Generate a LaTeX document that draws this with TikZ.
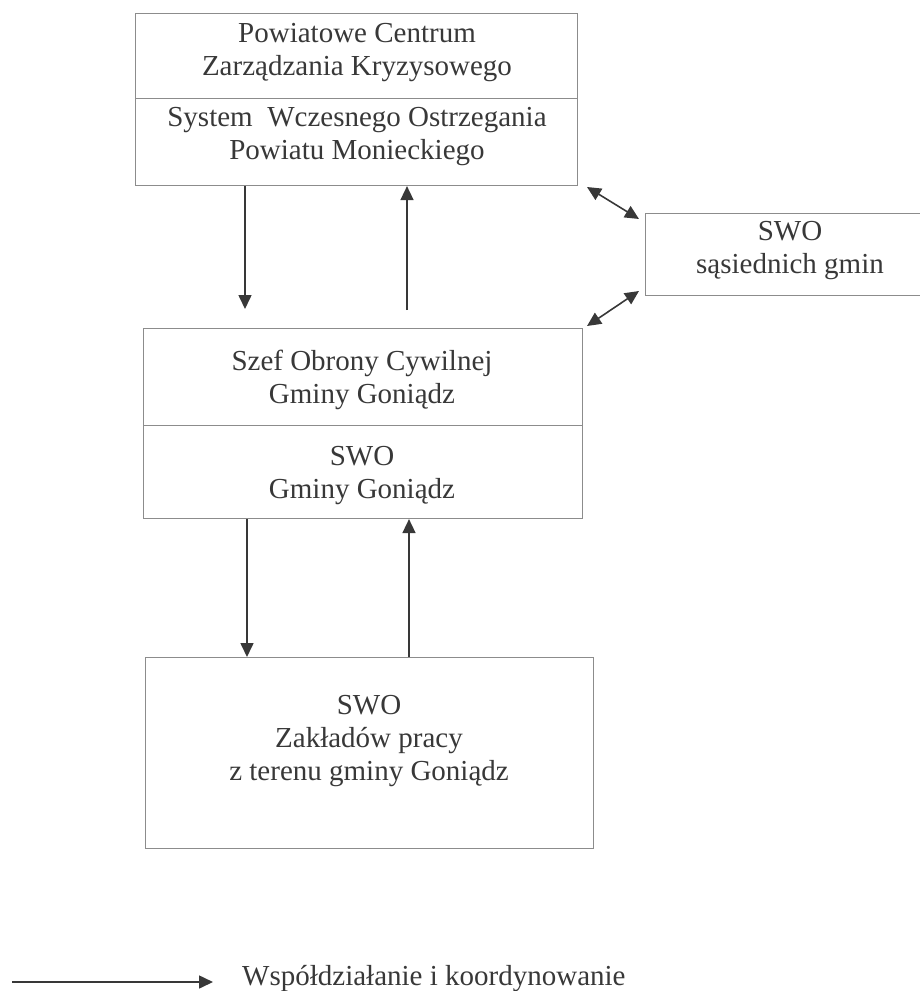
\documentclass[tikz,border=0pt]{standalone}
\usepackage{fontspec}
\setmainfont{Liberation Serif}
\usetikzlibrary{arrows.meta}
\definecolor{boxline}{gray}{0.55}
\definecolor{inkline}{gray}{0.22}
\definecolor{inktext}{gray}{0.22}
\tikzset{
  box/.style={draw=boxline, line width=1.1pt, rectangle, inner sep=0pt, anchor=north west},
  label/.style={text=inktext, align=center, inner sep=0pt, font=\fontsize{29}{33}\selectfont},
  arr/.style={draw=inkline, line width=1.6pt, -{Triangle[length=14pt,width=13pt]}},
  darr/.style={draw=inkline, line width=1.6pt, {Triangle[length=14pt,width=13pt]}-{Triangle[length=14pt,width=13pt]}}
}
\begin{document}
\begin{tikzpicture}[x=1pt,y=-1pt]
\useasboundingbox (0,0) rectangle (920,991);
% top box
\node[box, minimum width=442, minimum height=85] (top1) at (135,13) {};
\node[box, minimum width=442, minimum height=87] (top2) at (135,98) {};
\node[label] (t1) at (357,53) {Powiatowe Centrum\\Zarządzania Kryzysowego};
\node[label] (t2) at (357,137) {System\ \ Wczesnego Ostrzegania\\Powiatu Monieckiego};
% right box
\node[box, minimum width=276, minimum height=82] (right) at (645,213) {};
\node[label] (r1) at (790,251) {SWO\\sąsiednich gmin};
% middle box
\node[box, minimum width=439, minimum height=97] (mid1) at (143,328) {};
\node[box, minimum width=439, minimum height=93] (mid2) at (143,425) {};
\node[label] (m1) at (362,380) {Szef Obrony Cywilnej\\Gminy Goniądz};
\node[label] (m2) at (362,476) {SWO\\Gminy Goniądz};
% bottom box
\node[box, minimum width=448, minimum height=191] (bot) at (145,657) {};
\node[label] (b1) at (369,741) {SWO\\Zakładów pracy\\z terenu gminy Goniądz};
% connectors top <-> middle
\coordinate (dn1) at (245,309);
\coordinate (up1) at (407,310);
\draw[arr] (dn1 |- top2.south) -- (dn1);
\draw[arr] (up1) -- (up1 |- top2.south);
% connectors middle <-> bottom
\coordinate (dn2) at (247,0);
\coordinate (up2) at (409,0);
\draw[arr] (dn2 |- mid2.south) -- (dn2 |- bot.north);
\draw[arr] (up2 |- bot.north) -- (up2 |- mid2.south);
% double arrows to neighbour box
\coordinate (da1) at (587,187);
\coordinate (da1e) at (639,219);
\coordinate (da2) at (587,326);
\coordinate (da2e) at (639,291);
\draw[darr] (da1) -- (da1e);
\draw[darr] (da2) -- (da2e);
% legend
\coordinate (lg1) at (12,982);
\coordinate (lg2) at (213,982);
\draw[arr] (lg1) -- (lg2);
\node[label, anchor=west] (lgt) at (242,979) {Współdziałanie i koordynowanie};
\end{tikzpicture}
\end{document}
